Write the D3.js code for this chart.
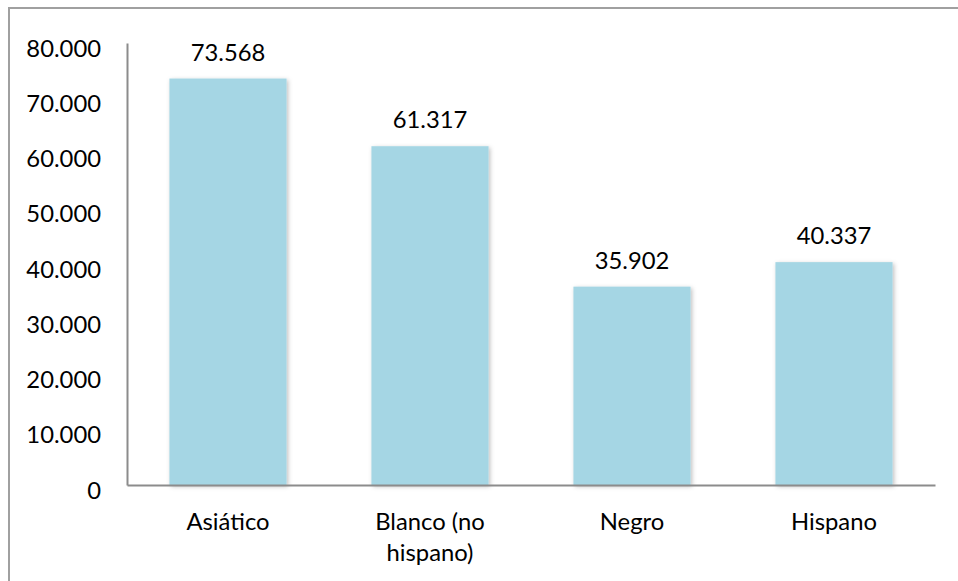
<!DOCTYPE html>
<html>
<head>
<meta charset="utf-8">
<script src="https://cdn.jsdelivr.net/npm/d3@7"></script>
<style>
  html, body { margin: 0; padding: 0; background: #fff; }
  svg { display: block; }
  text { font-family: Lato, "Open Sans", sans-serif; fill: #000; }
</style>
</head>
<body>
<svg id="chart" width="958" height="581"></svg>
<script>
// Median household income by group
const categories = ["Asiático", "Blanco (no hispano)", "Negro", "Hispano"];
const categoryLines = [["Asiático"], ["Blanco (no", "hispano)"], ["Negro"], ["Hispano"]];
const values = [73568, 61317, 35902, 40337];
const valueLabels = ["73.568", "61.317", "35.902", "40.337"];
const yTicks = [0, 10000, 20000, 30000, 40000, 50000, 60000, 70000, 80000];
const yTickLabels = ["0", "10.000", "20.000", "30.000", "40.000", "50.000", "60.000", "70.000", "80.000"];

const svg = d3.select("#chart");
const W = 958, H = 581;
const plot = { left: 127, right: 935, top: 43, bottom: 485 };
const fontSize = 23.8;

// Outer chart frame (extends past the right and bottom edges)
svg.append("rect")
  .attr("x", 9).attr("y", 8)
  .attr("width", W + 20).attr("height", H + 20)
  .attr("fill", "none")
  .attr("stroke", "#a0a0a0")
  .attr("stroke-width", 2);

const defs = svg.append("defs");
const f = defs.append("filter").attr("id", "shadow")
  .attr("x", "-10%").attr("y", "-10%").attr("width", "130%").attr("height", "130%");
f.append("feDropShadow")
  .attr("dx", 1.5).attr("dy", 1.5).attr("stdDeviation", 2)
  .attr("flood-color", "#000").attr("flood-opacity", 0.25);

const x = d3.scaleBand().domain(categories).range([plot.left, plot.right]).paddingInner(0.42).paddingOuter(0.21);
const y = d3.scaleLinear().domain([0, 80000]).range([plot.bottom, plot.top]);

// Bars
svg.append("g").selectAll("rect")
  .data(categories)
  .join("rect")
  .attr("x", d => x(d))
  .attr("y", (d, i) => y(values[i]))
  .attr("width", x.bandwidth())
  .attr("height", (d, i) => y(0) - y(values[i]))
  .attr("fill", "#a5d6e4")
  .attr("filter", "url(#shadow)");

// Y axis
const yAxis = d3.axisLeft(y)
  .tickValues(yTicks)
  .tickFormat((d, i) => yTickLabels[i])
  .tickSize(0)
  .tickPadding(26);
const gy = svg.append("g").attr("transform", `translate(${plot.left},0)`).call(yAxis);
gy.select(".domain").attr("stroke", "#8c8c8c").attr("stroke-width", 2);
gy.selectAll("text")
  .attr("font-size", fontSize)
  .attr("font-family", "Lato, 'Open Sans', sans-serif")
  .attr("fill", "#000")
  .attr("dy", "0.55em");

// X axis
const xAxis = d3.axisBottom(x).tickSize(0).tickFormat("");
const gx = svg.append("g").attr("transform", `translate(0,${plot.bottom})`).call(xAxis);
gx.select(".domain").attr("stroke", "#8c8c8c").attr("stroke-width", 2);

// Category labels (wrapped)
const lab = svg.append("g").selectAll("text")
  .data(categories)
  .join("text")
  .attr("x", d => x(d) + x.bandwidth() / 2)
  .attr("y", 530)
  .attr("text-anchor", "middle")
  .attr("font-size", fontSize);
lab.each(function (d, i) {
  const t = d3.select(this);
  categoryLines[i].forEach((line, j) => {
    t.append("tspan")
      .attr("x", x(d) + x.bandwidth() / 2)
      .attr("dy", j === 0 ? 0 : 31)
      .text(line);
  });
});

// Value labels
svg.append("g").selectAll("text")
  .data(categories)
  .join("text")
  .attr("x", d => x(d) + x.bandwidth() / 2)
  .attr("y", (d, i) => y(values[i]) - 18)
  .attr("text-anchor", "middle")
  .attr("font-size", fontSize)
  .text((d, i) => valueLabels[i]);
</script>
</body>
</html>
